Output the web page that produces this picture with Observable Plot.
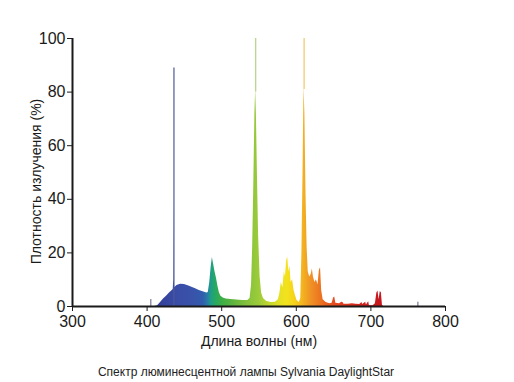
<!DOCTYPE html>
<html><head><meta charset="utf-8">
<script src="https://cdn.jsdelivr.net/npm/d3@7"></script>
<script src="https://cdn.jsdelivr.net/npm/@observablehq/plot@0.6"></script>
<style>
body{margin:0;background:#fff;font-family:"Liberation Sans",Arial,sans-serif}
#c{position:relative;width:514px;height:382px}
#cap{position:absolute;top:365px;left:0;width:492px;text-align:center;font-size:12px;color:#222;line-height:14px}
</style>
</head><body><div id="c"></div><script>
// wavelength (nm) of each sample
const wavelengths = [400,404.5,405.5,410,414,418,422,426,430,433,435,435.7,436,436.3,437,440,445,450,455,460,465,470,475,480,482,484,486,487.5,489,491,493,495,497,499,502,506,512,520,528,535,538,540,541.5,543,544.5,545.5,546.5,548,549.5,551.5,553.5,556,560,566,572,576,578,580,582,584,585.5,587,588.5,590,591.5,593,595,597,599,601,604,606,607.5,609,610.3,611.5,613,614.5,616,618,620,621.5,623,625,627,629,631,632.5,634,636,640,645,648,650,651.5,653,658,661,662.5,664,670,675,680,685,688,689,693,694,697,698,703,706,708,709.5,711,712.5,714,715.5,717,720];
// relative spectral power (%)
const intensity = [0,0,0,0,0.3,1.5,2.8,3.8,5,5.8,6.3,10,40,10,7,7.8,8.3,8.2,7.7,7.2,6.6,6,5.5,5,5.2,9,15,18.3,16,13,10.5,7.5,5,3.8,3.2,2.8,2.6,2.4,2.2,2.2,3,8,22,45,72,81,72,48,26,11,5,3,2,1.5,1.6,2.5,5,9,7,13,11,17,18.5,13,15,9,10,6,4,2.2,1.5,3,20,50,82,72,42,22,13,11,12,14,11,9,10,8,13.5,14.5,6,2.5,1.5,1,1.2,3.2,3.5,1.2,1,1.6,1.5,0.8,0.8,1,0.8,0.7,1.5,0.7,1.6,0.6,1.8,0.4,0.3,1,5,5.8,2.5,5.5,5.2,0.5,0,0];

// thin line tops of the mercury lines: wavelength, from %, to %
const lineNm = [436, 545.5, 610.5];
const lineLo = [0, 80, 81];
const lineHi = [89, 100, 100];
// small isolated lines
const minorNm = [405, 763];
const minorV = [2.6, 1.6];

// colour of light by wavelength
const gradNm = [400,420,440,460,475,481,486,492,500,515,535,550,565,578,588,598,606,612,620,632,645,660,680,700,720];
const gradColor = ["#3b3a8f","#34439c","#3a4ca6","#3952aa","#325cad","#2a78a8","#1e9e86","#27a862","#3aae48","#5cb43e","#86c23c","#9ccb3a","#c4d72f","#e6e024","#f3e21d","#f6d21b","#f5bd1e","#f2aa22","#f09226","#ec7620","#e8561f","#e2401e","#d62a1e","#cc1b1f","#c2161e"];

const xTicks = [300,400,500,600,700,800];
const yTicks = [0,20,40,60,80,100];
const xLabel = "Длина волны (нм)";
const yLabel = "Плотность излучения (%)";
const caption = "Спектр люминесцентной лампы Sylvania DaylightStar";

const spectrum = wavelengths.map((nm, i) => ({nm, v: intensity[i]}));
const lines = lineNm.map((nm, i) => ({nm, lo: lineLo[i], hi: lineHi[i]}));
const minor = minorNm.map((nm, i) => ({nm, v: minorV[i]}));

const axisColor = "#1a1a1a";
const plot = Plot.plot({
  width: 514, height: 382,
  marginLeft: 72, marginRight: 69, marginTop: 38, marginBottom: 76,
  style: {fontFamily: "'Liberation Sans', Arial, sans-serif", fontSize: "16px", color: axisColor, background: "white", overflow: "visible"},
  x: {domain: [300, 800], ticks: xTicks, tickSize: 5, tickPadding: 4, label: null},
  y: {domain: [0, 100], ticks: yTicks, tickSize: 5, tickPadding: 2, label: null},
  marks: [
    Plot.areaY(spectrum, {x: "nm", y: "v", fill: "url(#spectrum-grad)", curve: "linear"}),
    Plot.ruleX(lines.slice(0,1), {x: "nm", y1: "lo", y2: "hi", stroke: "#4c5a98", strokeWidth: 1.2}),
    Plot.ruleX(lines.slice(1,2), {x: "nm", y1: "lo", y2: "hi", stroke: "#bcd692", strokeWidth: 1.4}),
    Plot.ruleX(lines.slice(2,3), {x: "nm", y1: "lo", y2: "hi", stroke: "#f1d07e", strokeWidth: 1.4}),
    Plot.ruleX(minor, {x: "nm", y1: 0, y2: "v", stroke: "#5a6078", strokeWidth: 1}),
    Plot.ruleX([300], {y1: 0, y2: 100, stroke: axisColor, strokeWidth: 2}),
    Plot.ruleY([0], {x1: 300, x2: 800, stroke: axisColor, strokeWidth: 2}),
    Plot.text([yLabel], {text: d => d, frameAnchor: "left", textAnchor: "middle", lineAnchor: "middle", dx: -36, dy: 9, rotate: -90, fontSize: 14, fill: axisColor}),
    Plot.text([xLabel], {text: d => d, frameAnchor: "bottom", lineAnchor: "middle", dy: 35, fontSize: 14, fill: axisColor})
  ]
});

const svg = plot.tagName.toLowerCase() === "svg" ? plot : plot.querySelector("svg");
const xs = plot.scale("x");
const x0 = xs.apply(300), x1 = xs.apply(800);
const defs = d3.select(svg).insert("defs", ":first-child");
const grad = defs.append("linearGradient")
  .attr("id", "spectrum-grad")
  .attr("gradientUnits", "userSpaceOnUse")
  .attr("x1", x0).attr("x2", x1).attr("y1", 0).attr("y2", 0);
gradNm.forEach((nm, i) => {
  grad.append("stop").attr("offset", (xs.apply(nm) - x0) / (x1 - x0)).attr("stop-color", gradColor[i]);
});

const c = document.getElementById("c");
c.appendChild(plot);
const cap = document.createElement("div");
cap.id = "cap";
cap.textContent = caption;
c.appendChild(cap);
</script></body></html>
